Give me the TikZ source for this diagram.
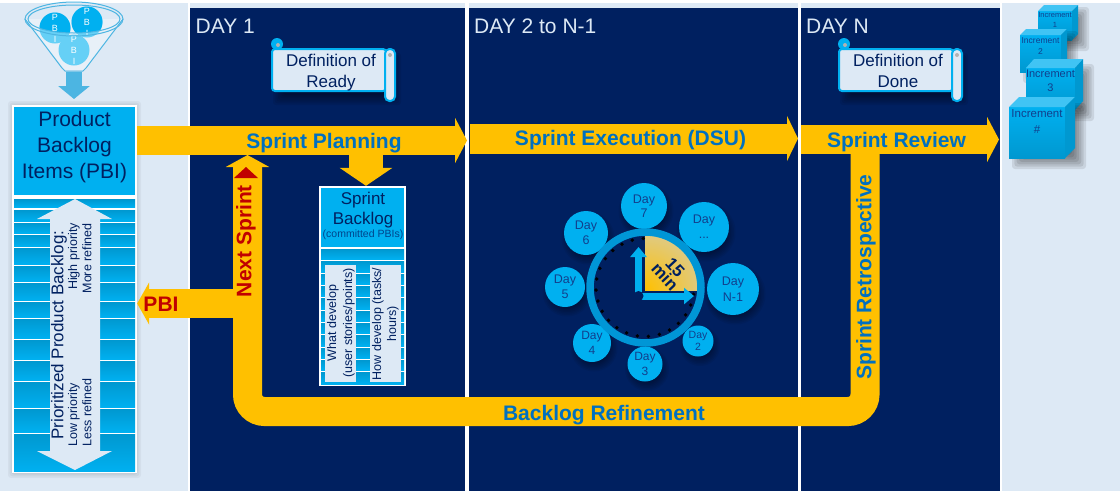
\documentclass[tikz,border=0pt]{standalone}
\usepackage{fontspec}
\setmainfont{Liberation Sans}
\usetikzlibrary{arrows.meta}
\definecolor{bgl}{HTML}{DDE9F5}
\definecolor{navy}{HTML}{002060}
\definecolor{amber}{HTML}{FFC000}
\definecolor{sky}{HTML}{00B0F0}
\definecolor{skyd}{HTML}{0098D0}
\definecolor{lbl}{HTML}{0070C0}
\definecolor{txtb}{HTML}{123F8C}
\definecolor{crim}{HTML}{C00000}
\definecolor{ring}{HTML}{0096D6}
\definecolor{pale}{HTML}{DCCB90}
\newcommand{\fs}[2]{\fontsize{#1}{#2}\selectfont}
\tikzset{
  band/.style={draw=amber,line width=#1},
  lab/.style={inner sep=0,font=\bfseries\fs{21}{25},text=lbl},
  daylab/.style={inner sep=0,anchor=west,font=\fs{21}{25},text=bgl},
  stripe/.style={top color=skyd,bottom color=sky,draw=none},
  dayc/.style={circle,fill=sky,inner sep=0,align=center,text=txtb},
  pan/.style={fill=bgl,draw=none},
  titl/.style={inner sep=0,align=center,text=navy},
  cubefront/.style={top color=sky,bottom color=skyd,draw=none},
  clockarrow/.style={draw=sky,line width=7pt,-{Triangle[length=10pt,width=16pt]}},
}
% soft shadows built from translucent layers
\newcommand{\softrect}[6]{%
  \foreach \i in {-3,...,3}{%
    \pgfmathsetmacro{\d}{#5*\i/3}%
    \fill[black,opacity=#6,rounded corners=3pt] ({#1-\d},{#2-\d}) rectangle ({#3+\d},{#4+\d});
  }}
\newcommand{\softdisc}[4]{%
  \foreach \i in {-3,...,3}{%
    \pgfmathsetmacro{\d}{#3+1.5*\i}%
    \fill[black,opacity=#4] #1 ++(2,#2) circle (\d);
  }}
\newcommand{\scrollbox}[3]{%
  \softrect{#1+6}{58}{#1+124}{100}{5}{.07}
  \draw[draw=sky,line width=2pt,fill=bgl,rounded corners=3pt] (#1,49) rectangle (#1+114,91);
  \draw[draw=sky,line width=2pt,fill=bgl,rounded corners=4.5pt] (#1+113,49) rectangle (#1+123,101);
  \fill[sky] (#1+5,44) circle (6);
  \fill[gray!60] (#1+6,45) circle (2);
  \fill[gray!60] (#1+118,55) circle (2);
  \node[titl,font=\fs{17}{20.5}] (#2) at (#1+59,73) {#3};
}
\begin{document}
\begin{tikzpicture}[x=1pt,y=-1pt]
\useasboundingbox (0,0) rectangle (1120,491);
\fill[white] (0,0) rectangle (1120,491);
\fill[bgl] (0,3) rectangle (1120,491);
% columns
\fill[white] (188,0) rectangle (190,491);
\fill[white] (465,0) rectangle (469,491);
\fill[white] (798,0) rectangle (801,491);
\fill[white] (1000,3) rectangle (1002,491);
\fill[navy] (190,8) rectangle (465,491);
\fill[navy] (469,8) rectangle (798,491);
\fill[navy] (801,8) rectangle (1000,491);
\node[daylab] (d1) at (195.5,26) {DAY 1};
\node[daylab] (d2) at (474,26) {DAY 2 to N-1};
\node[daylab] (d3) at (806,26) {DAY N};
% scrolls
\scrollbox{272}{dor}{\strut Definition of\\\strut Ready}
\scrollbox{839}{dod}{\strut Definition of\\\strut Done}
% PBI box
\softrect{13}{106}{136}{473}{5}{.04}
\node[fill=white,draw=none,minimum width=125pt,minimum height=368pt,inner sep=0] (pbibox) at (74.5,289) {};
\fill[sky] (14,107) rectangle (135,195);
\foreach \a/\b in {199.5/207,210/221,223/233,235/246,248/264,266/281,283/300.5,302/317,319/338,340/359,361/380,382/407,409/432,434/471}{
  \shade[stripe] (14,\a) rectangle (135,\b);
}
\node[titl,font=\fs{21}{26}] (pbititle) at (74.5,147) {Product\\Backlog\\Items (PBI)};
\fill[bgl] (75,199) -- (112,219) -- (100,219) -- (100,451) -- (112,451) -- (75,470) -- (37,451) -- (50,451) -- (50,219) -- (37,219) -- cycle;
\node[titl,rotate=90,font=\fs{17}{20}] (pp) at (59,335) {Prioritized Product Backlog:};
\node[titl,rotate=90,font=\fs{12.5}{15},anchor=east] (hp) at (74,223) {High priority};
\node[titl,rotate=90,font=\fs{12.5}{15},anchor=east] (mr) at (87,223) {More refined};
\node[titl,rotate=90,font=\fs{12.5}{15},anchor=west] (lp) at (74,447) {Low priority};
\node[titl,rotate=90,font=\fs{12.5}{15},anchor=west] (lr) at (87,447) {Less refined};
% funnel
\fill[white,opacity=.35] (25,19) -- (65,70) -- (85,70) -- (123,19) -- cycle;
\foreach \x/\y in {55/28,87/22,74/50}{\fill[sky!60] (\x,\y) circle (15.5);}
\begin{scope}
  \clip (74,19) ellipse (46 and 14);
  \foreach \x/\y in {55/28,87/22,74/50}{\fill[sky] (\x,\y) circle (15.5);}
\end{scope}
\foreach \n/\x/\y in {ba/55/28,bb/87/22,bc/74/50}{
  \node[inner sep=0,align=center,text=white,font=\fs{9}{11}] (\n) at (\x,\y) {P\\B\\I};
}
\draw[draw=ring!70!white,line width=1pt] (25,19) -- (62,68) -- (65,71) -- (83,71) -- (86,68) -- (123,19);
\draw[draw=ring!70!white,line width=1pt] (74,19) ellipse (49 and 17);
\draw[draw=ring!70!white,line width=1pt] (74,19) ellipse (46 and 14);
\coordinate (fnl) at (74,72);
\draw[draw=ring!70!white,line width=16pt,-{Triangle[length=13pt,width=31pt]}] (fnl) -- (74,99);
% bands
\coordinate (sp1) at (pbibox.east |- 0,140.5);
\coordinate (sp2) at (467,140.5);
\coordinate (se1) at (470,138.5);
\coordinate (se2) at (798,138.5);
\coordinate (sr1) at (801,139.5);
\coordinate (sr2) at (999,139.5);
\coordinate (rt) at (865,150);
\coordinate (rb) at (865,411.5);
\coordinate (lb) at (247.5,411.5);
\coordinate (ns) at (247.5,155);
\coordinate (pb1) at (247,303.5);
\coordinate (pb2) at (pbibox.east |- 0,303.5);
\draw[band=29pt,-{Triangle[length=12pt,width=45pt]}] (sp1) -- (sp2);
\draw[band=30pt,-{Triangle[length=11pt,width=45pt]}] (se1) -- (se2);
\draw[band=29pt,-{Triangle[length=12pt,width=45pt]}] (sr1) -- (sr2);
\draw[band=29pt,-{Triangle[length=12pt,width=42pt]}] (pb1) -- (pb2);
\draw[band=29pt,rounded corners=17pt,-{Triangle[length=12pt,width=43pt]}] (rt) -- (rb) -- (lb) -- (ns);
% sprint backlog
\node[fill=white,inner sep=0,minimum width=87pt,minimum height=200pt] (sbbox) at (362.5,286) {};
\fill[sky] (321,188) rectangle (404,247);
\shade[stripe] (321,249) rectangle (404,259);
\foreach \a/\b in {261/272,274/284,286/296,298/309,311/321,323/333,335/346,348/358,360/370,372/384}{
  \shade[stripe] (321,\a) rectangle (404,\b);
}
\coordinate (sbs) at (366,155);
\draw[band=34pt,-{Triangle[length=18pt,width=52pt]}] (sbs) -- (sbbox.north -| sbs);
\node[titl,font=\fs{17}{20.5}] (sbt) at (363,210) {Sprint\\Backlog};
\node[titl,font=\fs{10.5}{12},text=lbl!45!navy] (sbc) at (363,234.5) {(committed PBIs)};
\fill[pan] (325,265) rectangle (356,382);
\fill[pan] (370,265) rectangle (401,382);
\node[titl,rotate=90,font=\fs{12.5}{16}] (wd) at (341,323) {What develop\\(user stories/points)};
\node[titl,rotate=90,font=\fs{12.5}{15}] (hd) at (385.5,324) {How develop (tasks/\\hours)};
% labels on bands
\node[lab] (l1) at (324,143) {Sprint Planning};
\node[lab] (l2) at (630.5,140) {Sprint Execution (DSU)};
\node[lab] (l3) at (896.5,142) {Sprint Review};
\node[lab] (l4) at (604,415) {Backlog Refinement};
\node[lab,rotate=90] (l5) at (866,277) {Sprint Retrospective};
\node[lab,rotate=90,text=crim] (l6) at (246,241) {Next Sprint};
\node[lab,text=crim] (l7) at (161,304) {PBI};
\fill[crim] (246,167) -- (258,178) -- (234,178) -- cycle;
% day circles
\softdisc{(644,206)}{5}{23}{.06}
\softdisc{(704,227)}{5}{25}{.06}
\softdisc{(733,289)}{5}{26}{.06}
\softdisc{(698,341)}{5}{15.5}{.06}
\softdisc{(645,364)}{5}{17.5}{.06}
\softdisc{(592,343)}{5}{19}{.06}
\softdisc{(565,287)}{5}{20}{.06}
\softdisc{(586,233)}{5}{22}{.06}
\node[dayc,minimum size=46pt,font=\fs{12.5}{14.5}] (day7) at (644,206) {Day\\7};
\node[dayc,minimum size=50pt,font=\fs{12.5}{15}] (daym) at (704,227) {Day\\...};
\node[dayc,minimum size=52pt,font=\fs{12.5}{15.5}] (dayn) at (733,289) {Day\\N-1};
\node[dayc,minimum size=31pt,font=\fs{10.5}{12}] (day2) at (698,341) {Day\\2};
\node[dayc,minimum size=35pt,font=\fs{12}{14.5}] (day3) at (645,364) {Day\\3};
\node[dayc,minimum size=38pt,font=\fs{12}{15}] (day4) at (592,343) {Day\\4};
\node[dayc,minimum size=40pt,font=\fs{12.5}{15}] (day5) at (565,287) {Day\\5};
\node[dayc,minimum size=44pt,font=\fs{12.5}{15}] (day6) at (586,233) {Day\\6};
% clock
\fill[navy] (645.5,287.5) circle (56);
\begin{scope}
  \clip (645,233) rectangle (700,290);
  \clip (645,290) circle (56);
  \shade[inner color=amber,outer color=pale] (645,290) circle (62);
\end{scope}
\draw[draw=ring,line width=7.5pt] (645.5,287.5) circle (55.5);
\foreach \a in {-8,-21,...,-268}{\fill[black] ({645+49*cos(\a)},{287.5-49*sin(\a)}) circle (1.9);}
\coordinate (hub) at (638.5,296);
\coordinate (tipu) at (638.5,247);
\coordinate (tipr) at (694,296);
\draw[clockarrow] (hub) -- (tipu);
\draw[clockarrow] (hub) -- (tipr);
\fill[navy] (hub) circle (5);
\node[inner sep=0,align=center,rotate=-47,text=navy,font=\bfseries\fs{17}{14}] (mins) at (670,272) {15\\min};
% cubes
\foreach \n/\l/\r/\s/\t/\f/\b/\fsz/\lsp/\ty/\txt in {
  c1/1038/1072/1078/5/11/40/7.5/9.5/20/{Increment\\1},
  c2/1020/1061/1067/29/35/72/8.5/11/46/{Increment\\2},
  c3/1026/1075/1083/59/68/110/11/14/81/{Increment\\3},
  c4/1009/1065/1075/97/107/158/11.5/16/122/{Increment\\\#}}{
  \softrect{\l+10}{\f+3}{\s+4}{\b+4}{7}{.09}
  \shade[cubefront] (\l,\f) rectangle (\r,\b);
  \fill[sky!75!white] (\l,\f) -- (\l+\s-\r,\t) -- (\s,\t) -- (\r,\f) -- cycle;
  \fill[skyd] (\r,\f) -- (\s,\t) -- (\s,\b-\f+\t) -- (\r,\b) -- cycle;
  \node[titl,font=\fs{\fsz}{\lsp},text=txtb] (\n) at ({(\l+\r)/2},\ty) {\txt};
}
\end{tikzpicture}
\end{document}
